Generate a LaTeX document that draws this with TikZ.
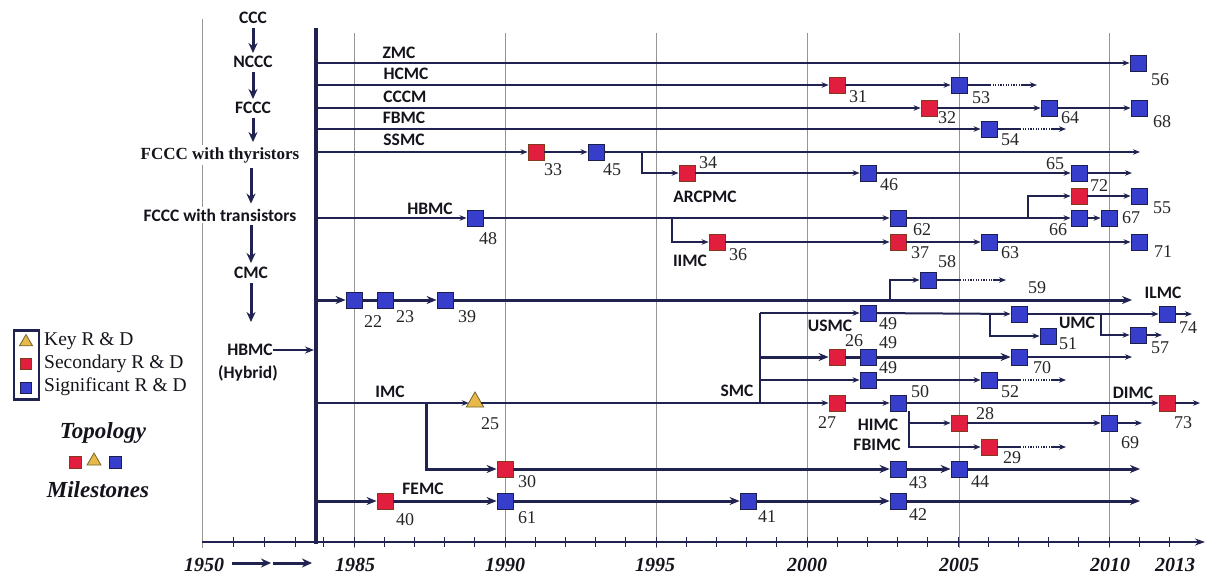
\documentclass[tikz,border=0pt]{standalone}
\usepackage{fontspec}
\setmainfont{Liberation Serif}
\newfontfamily\labfont{Carlito}
\usetikzlibrary{arrows.meta,shapes.geometric}
\definecolor{navy}{RGB}{32,34,80}
\definecolor{mred}{RGB}{226,30,62}
\definecolor{mredb}{RGB}{128,58,28}
\definecolor{mblue}{RGB}{56,62,204}
\definecolor{mblueb}{RGB}{28,30,78}
\definecolor{mtri}{RGB}{232,184,74}
\definecolor{mtrib}{RGB}{112,102,42}
\definecolor{gridc}{RGB}{150,150,150}
\definecolor{numc}{RGB}{38,38,38}
\definecolor{labc}{RGB}{20,20,28}
\tikzset{
  sq/.style={rectangle,minimum width=16pt,minimum height=16pt,inner sep=0pt,line width=0.8pt},
  rsq/.style={sq,fill=mred,draw=mredb},
  bsq/.style={sq,fill=mblue,draw=mblueb},
  ytri/.style={regular polygon,regular polygon sides=3,minimum size=20pt,inner sep=0pt,fill=mtri,draw=mtrib,line width=0.8pt},
  num/.style={font=\fontsize{18}{18}\selectfont,text=numc,inner sep=0pt},
  lbl/.style={font=\labfont\bfseries\fontsize{17.5}{17.5}\selectfont,text=labc,inner sep=0pt},
  lbs/.style={font=\bfseries\fontsize{17}{17}\selectfont,text=labc,inner sep=0pt},
  lnm/.style={draw=navy,line width=2pt},
  thn/.style={draw=navy,line width=1.3pt},
  thk/.style={draw=navy,line width=3pt},
  arrw/.style={-{Stealth[length=7pt,width=5.5pt]}},
  barrw/.style={-{Stealth[length=10pt,width=8pt]}},
  varr/.style={draw=navy,line width=3pt,-{Stealth[length=10pt,width=9pt]}},
  dotl/.style={draw=navy,line width=1.3pt,dash pattern=on 1.2pt off 1.4pt},
  gridl/.style={draw=gridc,line width=0.9pt},
  tick/.style={draw=navy,line width=1pt},
  yr/.style={font=\bfseries\itshape\fontsize{20}{20}\selectfont,text=labc,inner sep=0pt},
  leg/.style={font=\fontsize{19.5}{20}\selectfont,text=labc,inner sep=0pt,anchor=west},
  big/.style={font=\bfseries\itshape\fontsize{23}{23}\selectfont,text=labc,inner sep=0pt},
}
\begin{document}
\begin{tikzpicture}[x=1pt,y=-1pt]
\useasboundingbox (0,0) rectangle (1206,578);
\fill[white] (0,0) rectangle (1206,578);
% grid lines
\draw[gridl] (202,19) -- (202,548);
\foreach \gx in {354,505,656,807,959,1109} \draw[gridl] (\gx,33) -- (\gx,548);
% axis
\coordinate (ax0) at (202,542);
\coordinate (ax1) at (1205,542);
\draw[draw=navy,line width=1.3pt,-{Stealth[length=10pt,width=7pt]}] (ax0) -- (ax1);
\foreach \tx in {233,264,295} \draw[tick] (\tx,537) -- (\tx,547);
\foreach \k in {-1,...,27} \draw[tick] ({354+\k*30.2},537) -- ({354+\k*30.2},547);
\node[yr] (y1950) at (204,565) {1950};
\node[yr] (y1985) at (355,565) {1985};
\node[yr] (y1990) at (505,565) {1990};
\node[yr] (y1995) at (655,565) {1995};
\node[yr] (y2000) at (807,565) {2000};
\node[yr] (y2005) at (959,565) {2005};
\node[yr] (y2010) at (1110,565) {2010};
\node[yr] (y2013) at (1175,565) {2013};
\coordinate (ya) at (232,563);
\coordinate (yb) at (271,563);
\coordinate (yc) at (273,563);
\coordinate (yd) at (312,563);
\draw[varr] (ya) -- (yb);
\draw[varr] (yc) -- (yd);
% main vertical line
\coordinate (mv0) at (316,28);
\coordinate (mv1) at (316,544);
\draw[navy,line width=4pt] (mv0) -- (mv1);

% left column
\node[lbl] (tCCC) at (253,18) {CCC};
\node[lbl] (tNCCC) at (253,62) {NCCC};
\node[lbl] (tFCCC) at (253,108) {FCCC};
\node[lbs,fill=white,inner sep=2pt] (tThy) at (220,155) {FCCC with thyristors};
\node[lbl,fill=white,inner sep=2pt] (tTra) at (220,215) {FCCC with transistors};
\node[lbl] (tCMC) at (251,273) {CMC};
\node[lbl] (tHB) at (250,350) {HBMC};
\node[lbl] (tHyb) at (248,373) {(Hybrid)};
\coordinate (cmcEnd) at (251,322);
\coordinate (hbEnd) at (314,350);
\draw[varr,shorten <=4pt,shorten >=3pt] (tCCC) -- (tNCCC);
\draw[varr,shorten <=4pt,shorten >=3pt] (tNCCC) -- (tFCCC);
\draw[varr,shorten <=4pt,shorten >=3pt] (tFCCC.south) -- (tThy.north -| tFCCC.south);
\draw[varr,shorten <=3pt,shorten >=3pt] (tThy.south -| tCMC) -- (tTra.north -| tCMC);
\draw[varr,shorten <=2pt,shorten >=4pt] (tTra.south -| tCMC) -- (tCMC.north);
\draw[varr,shorten <=4pt] (tCMC) -- (cmcEnd);
\draw[navy,line width=2.2pt,-{Stealth[length=9pt,width=7pt]}] (tHB) -- (hbEnd);

% legend
\node[draw=navy,line width=2.5pt,minimum width=25pt,minimum height=69pt,inner sep=0pt] (legbox) at (26.5,365) {};
\node[ytri,minimum size=15pt] (kTri) at (26,342) {};
\node[rsq,minimum width=11pt,minimum height=11pt] (kRed) at (26,364) {};
\node[bsq,minimum width=11pt,minimum height=11pt] (kBlue) at (26,388) {};
\node[leg] (tKey) at (44,341) {Key R \& D};
\node[leg] (tSec) at (44,364) {Secondary R \& D};
\node[leg] (tSig) at (44,387) {Significant R \& D};
\node[big] (tTop) at (103,433) {Topology};
\node[rsq,minimum width=12pt,minimum height=12pt] (tpRed) at (75,462) {};
\node[ytri,minimum size=16pt] (tpTri) at (94,461) {};
\node[bsq,minimum width=12pt,minimum height=12pt] (tpBlue) at (115,462) {};
\node[big] (tMil) at (98,490) {Milestones};

% row labels
\node[lbl] (lZMC) at (399,53) {ZMC};
\node[lbl] (lHCMC) at (406,74) {HCMC};
\node[lbl] (lCCCM) at (405,97) {CCCM};
\node[lbl] (lFBMC) at (404,118) {FBMC};
\node[lbl] (lSSMC) at (404,140) {SSMC};
\node[lbl] (lARC) at (705,197) {ARCPMC};
\node[lbl] (lHBMC) at (430,209) {HBMC};
\node[lbl] (lIIMC) at (690,261) {IIMC};
\node[lbl] (lILMC) at (1163,293) {ILMC};
\node[lbl] (lUSMC) at (830,326) {USMC};
\node[lbl] (lUMC) at (1077,323) {UMC};
\node[lbl] (lSMC) at (737,391) {SMC};
\node[lbl] (lIMC) at (390,392) {IMC};
\node[lbl] (lDIMC) at (1133,393) {DIMC};
\node[lbl] (lHIMC) at (878,425) {HIMC};
\node[lbl] (lFBIMC) at (877,445) {FBIMC};
\node[lbl] (lFEMC) at (423,489) {FEMC};

% milestones
\node[bsq] (m56) at (1138,63) {};
\node[rsq] (m31) at (837,85) {};
\node[bsq] (m53) at (959,85) {};
\node[rsq] (m32) at (929,108) {};
\node[bsq] (m64) at (1049,108) {};
\node[bsq] (m68) at (1139,108) {};
\node[bsq] (m54) at (989,129) {};
\node[rsq] (m33) at (536,152) {};
\node[bsq] (m45) at (596,152) {};
\node[rsq] (m34) at (687,173) {};
\node[bsq] (m46) at (868,173) {};
\node[bsq] (m65) at (1079,173) {};
\node[rsq] (m72) at (1079,196) {};
\node[bsq] (m55) at (1139,196) {};
\node[bsq] (m48) at (475,218) {};
\node[bsq] (m62) at (898,218) {};
\node[bsq] (m66) at (1079,218) {};
\node[bsq] (m67) at (1109,218) {};
\node[rsq] (m36) at (717,242) {};
\node[rsq] (m37) at (898,242) {};
\node[bsq] (m63) at (989,242) {};
\node[bsq] (m71) at (1139,242) {};
\node[bsq] (m22) at (354,300) {};
\node[bsq] (m23) at (385,300) {};
\node[bsq] (m39) at (445,300) {};
\node[bsq] (m58) at (928,280) {};
\node[bsq] (m49a) at (868,313) {};
\node[bsq] (mUa) at (1019,314) {};
\node[bsq] (m74) at (1167,314) {};
\node[bsq] (m51) at (1048,336) {};
\node[bsq] (m57) at (1138,335) {};
\node[rsq] (m26) at (837,357) {};
\node[bsq] (m49b) at (868,357) {};
\node[bsq] (m70) at (1019,357) {};
\node[bsq] (m49c) at (868,380) {};
\node[bsq] (m52) at (989,380) {};
\node[ytri] (m25) at (475,402) {};
\node[rsq] (m27) at (837,403) {};
\node[bsq] (m50) at (898,403) {};
\node[rsq] (m73) at (1167,403) {};
\node[rsq] (m28) at (959,423) {};
\node[bsq] (m69) at (1109,423) {};
\node[rsq] (m29) at (989,447) {};
\node[rsq] (m30) at (505,469) {};
\node[bsq] (m43) at (898,469) {};
\node[bsq] (m44) at (959,469) {};
\node[rsq] (m40) at (385,501) {};
\node[bsq] (m61) at (505,501) {};
\node[bsq] (m41) at (748,501) {};
\node[bsq] (m42) at (898,501) {};

% numbers
\node[num] (n56) at (1160,80) {56};
\node[num] (n31) at (858,97) {31};
\node[num] (n53) at (981,98) {53};
\node[num] (n32) at (947,118) {32};
\node[num] (n64) at (1070,118) {64};
\node[num] (n68) at (1162,122) {68};
\node[num] (n54) at (1010,140) {54};
\node[num] (n33) at (553,170) {33};
\node[num] (n45) at (612,170) {45};
\node[num] (n34) at (708,163) {34};
\node[num] (n46) at (889,185) {46};
\node[num] (n65) at (1055,164) {65};
\node[num] (n72) at (1099,186) {72};
\node[num] (n55) at (1162,208) {55};
\node[num] (n48) at (488,239) {48};
\node[num] (n62) at (922,230) {62};
\node[num] (n66) at (1058,230) {66};
\node[num] (n67) at (1131,218) {67};
\node[num] (n36) at (738,255) {36};
\node[num] (n37) at (920,253) {37};
\node[num] (n63) at (1010,253) {63};
\node[num] (n71) at (1163,252) {71};
\node[num] (n22) at (373,322) {22};
\node[num] (n23) at (405,317) {23};
\node[num] (n39) at (467,317) {39};
\node[num] (n58) at (947,262) {58};
\node[num] (n59) at (1037,288) {59};
\node[num] (n49a) at (888,324) {49};
\node[num] (n74) at (1188,328) {74};
\node[num] (n51) at (1068,344) {51};
\node[num] (n57) at (1160,348) {57};
\node[num] (n26) at (854,341) {26};
\node[num] (n49b) at (888,343) {49};
\node[num] (n70) at (1042,368) {70};
\node[num] (n49c) at (888,368) {49};
\node[num] (n52) at (1010,392) {52};
\node[num] (n25) at (490,424) {25};
\node[num] (n27) at (827,423) {27};
\node[num] (n50) at (920,392) {50};
\node[num] (n73) at (1183,423) {73};
\node[num] (n28) at (985,414) {28};
\node[num] (n69) at (1130,443) {69};
\node[num] (n29) at (1012,458) {29};
\node[num] (n30) at (527,482) {30};
\node[num] (n43) at (918,483) {43};
\node[num] (n44) at (980,482) {44};
\node[num] (n40) at (405,520) {40};
\node[num] (n61) at (527,518) {61};
\node[num] (n41) at (767,517) {41};
\node[num] (n42) at (918,515) {42};

% ---- connectors ----
% ZMC
\coordinate (z0) at (316,63);
\draw[lnm,arrw] (z0) -- (m56);
% HCMC
\coordinate (h0) at (316,85);
\coordinate (h1) at (990,85);
\coordinate (h2) at (1022,85);
\coordinate (h3) at (1037,85);
\draw[lnm,arrw] (h0) -- (m31);
\draw[lnm,arrw] (m31) -- (m53);
\draw[thn] (m53) -- (h1);
\draw[dotl] (h1) -- (h2);
\draw[thn,arrw] (h2) -- (h3);
% CCCM
\coordinate (c0) at (316,108);
\draw[lnm,arrw] (c0) -- (m32);
\draw[thn,arrw] (m32) -- (m64);
\draw[thn,arrw] (m64) -- (m68);
% FBMC
\coordinate (f0) at (316,129);
\coordinate (f1) at (1020,129);
\coordinate (f2) at (1052,129);
\coordinate (f3) at (1066,129);
\draw[lnm,arrw] (f0) -- (m54);
\draw[thn] (m54) -- (f1);
\draw[dotl] (f1) -- (f2);
\draw[thn,arrw] (f2) -- (f3);
% SSMC
\coordinate (s0) at (316,152);
\coordinate (s1) at (1140,152);
\draw[lnm,arrw] (s0) -- (m33);
\draw[lnm,arrw] (m33) -- (m45);
\draw[lnm,arrw] (m45) -- (s1);
\coordinate (a0) at (642,152);
\coordinate (a1) at (1132,173);
\draw[lnm,arrw] (a0) |- (m34);
\draw[lnm,arrw] (m34) -- (m46);
\draw[lnm,arrw] (m46) -- (m65);
\draw[lnm,arrw] (m65) -- (a1);
% HBMC
\coordinate (b0) at (316,218);
\draw[lnm,arrw] (b0) -- (m48);
\draw[lnm,arrw] (m48) -- (m62);
\draw[lnm,arrw] (m62) -- (m66);
\draw[lnm,arrw] (m66) -- (m67);
\coordinate (b1) at (1028,218);
\draw[lnm,arrw] (b1) |- (m72);
\draw[lnm,arrw] (m72) -- (m55);
% IIMC
\coordinate (b2) at (672,218);
\draw[lnm,arrw] (b2) |- (m36);
\draw[lnm,arrw] (m36) -- (m37);
\draw[lnm,arrw] (m37) -- (m63);
\draw[lnm,arrw] (m63) -- (m71);
% 22 row
\coordinate (r0) at (316,300);
\coordinate (r1) at (1132,300);
\draw[thk,barrw] (r0) -- (m22);
\draw[thk] (m22) -- (m23);
\draw[thk,barrw] (m23) -- (m39);
\draw[thk,barrw] (m39) -- (r1);
\coordinate (r2) at (890,300);
\coordinate (g1) at (960,280);
\coordinate (g2) at (993,280);
\coordinate (g3) at (1006,280);
\draw[lnm,arrw] (r2) |- (m58);
\draw[thn] (m58) -- (g1);
\draw[dotl] (g1) -- (g2);
\draw[thn,arrw] (g2) -- (g3);
% SMC group
\coordinate (sm0) at (760,403);
\coordinate (sm1) at (760,313);
\coordinate (sm2) at (760,357);
\coordinate (sm3) at (760,380);
\draw[lnm] (sm0) -- (sm1);
\draw[lnm,arrw] (sm1) -- (m49a);
\draw[thk,barrw] (sm2) -- (m26);
\draw[lnm,arrw] (sm3) -- (m49c);
% USMC row
\coordinate (u1) at (1192,314);
\draw[lnm,arrw] (m49a) -- (mUa);
\draw[lnm,arrw] (mUa) -- (m74);
\draw[lnm,arrw] (m74) -- (u1);
\coordinate (u2) at (990,314);
\draw[lnm,arrw] (u2) |- (m51);
\coordinate (u3) at (1101,314);
\coordinate (u4) at (1162,335);
\draw[lnm,arrw] (u3) |- (m57);
\draw[lnm,arrw] (m57) -- (u4);
% 26 row
\coordinate (k1) at (1132,357);
\draw[thk] (m26) -- (m49b);
\draw[thk,barrw] (m49b) -- (m70);
\draw[lnm,arrw] (m70) -- (k1);
% 49c row
\coordinate (e1) at (1020,380);
\coordinate (e2) at (1052,380);
\coordinate (e3) at (1066,380);
\draw[lnm,arrw] (m49c) -- (m52);
\draw[thn] (m52) -- (e1);
\draw[dotl] (e1) -- (e2);
\draw[thn,arrw] (e2) -- (e3);
% IMC row
\coordinate (i0) at (316,403);
\coordinate (i1) at (1200,403);
\draw[lnm,arrw] (i0) -- (m25.west |- i0);
\draw[lnm] (m25.east |- i0) -- (sm0);
\draw[lnm,arrw] (sm0) -- (m27);
\draw[lnm,arrw] (m27) -- (m50);
\draw[lnm,arrw] (m50) -- (m73);
\draw[lnm,arrw] (m73) -- (i1);
% HIMC / FBIMC
\coordinate (j0) at (909,411);
\coordinate (j5) at (909,423);
\coordinate (j1) at (1142,423);
\draw[lnm] (j0) -- (j5);
\draw[lnm,arrw] (j5) -- (m28);
\draw[thn,arrw] (m28) -- (m69);
\draw[thn,arrw] (m69) -- (j1);
\draw[lnm,arrw] (j5) |- (m29);
\coordinate (j2) at (1020,447);
\coordinate (j3) at (1052,447);
\coordinate (j4) at (1066,447);
\draw[thn] (m29) -- (j2);
\draw[dotl] (j2) -- (j3);
\draw[thn,arrw] (j3) -- (j4);
% IMC branch down
\coordinate (n0) at (426,403);
\coordinate (nn1) at (1140,469);
\draw[thk,barrw] (n0) |- (m30);
\draw[thk,barrw] (m30) -- (m43);
\draw[thk,barrw] (m43) -- (m44);
\draw[thk,barrw] (m44) -- (nn1);
% FEMC
\coordinate (p0) at (316,501);
\coordinate (p1) at (1140,501);
\draw[thk,barrw] (p0) -- (m40);
\draw[thk,barrw] (m40) -- (m61);
\draw[thk,barrw] (m61) -- (m41);
\draw[thk,barrw] (m41) -- (m42);
\draw[thk,barrw] (m42) -- (p1);
\end{tikzpicture}
\end{document}
